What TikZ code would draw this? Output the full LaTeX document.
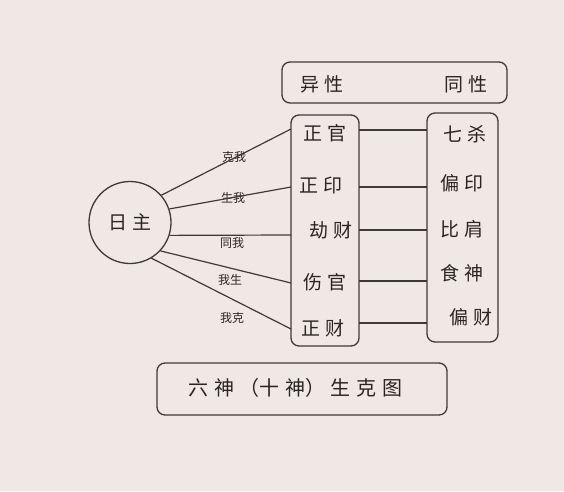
\documentclass[tikz,border=0pt]{standalone}
\usepackage{fontspec}
\newfontfamily\cjk{Noto Sans CJK SC}
\definecolor{bg}{RGB}{240,232,228}
\definecolor{ink}{RGB}{62,58,56}
\definecolor{txt}{RGB}{40,37,36}
\begin{document}
\begin{tikzpicture}[x=1pt,y=-1pt,
  box/.style={draw=ink,line width=1.3pt,rounded corners=8pt,inner sep=0pt},
  big/.style={font=\cjk\fontsize{19}{20}\selectfont,text=txt,inner sep=0pt},
  small/.style={font=\cjk\fontsize{12}{13}\selectfont,text=txt,inner sep=0pt},
  conn/.style={draw=ink,line width=1.2pt}]
\fill[bg] (0,0) rectangle (564,491);
\useasboundingbox (0,0) rectangle (564,491);
% boxes
\node[box,minimum width=225pt,minimum height=41pt] (T) at (394.5,82.5) {};
\node[box,minimum width=68pt,minimum height=231pt] (L) at (325,230.5) {};
\node[box,minimum width=71pt,minimum height=229pt] (R) at (462.5,227.5) {};
\node[box,minimum width=290pt,minimum height=52pt] (B) at (302,389) {};
\node[draw=ink,line width=1.3pt,circle,minimum size=82pt,inner sep=0pt] (sun) at (130,222.5) {};
% texts
\node[big] (t1) at (322,84) {异\hspace{5pt}性};
\node[big] (t2) at (466,84) {同\hspace{5pt}性};
\node[big] (sunt) at (130,222.5) {日\hspace{5pt}主};
\node[big] (a1) at (325,133) {正\hspace{5pt}官};
\node[big] (a2) at (321,185) {正\hspace{5pt}印};
\node[big] (a3) at (331,230) {劫\hspace{5pt}财};
\node[big] (a4) at (325,282) {伤\hspace{5pt}官};
\node[big] (a5) at (323,328) {正\hspace{5pt}财};
\node[big] (b1) at (465,134) {七\hspace{5pt}杀};
\node[big] (b2) at (462,183) {偏\hspace{5pt}印};
\node[big] (b3) at (462,229) {比\hspace{5pt}肩};
\node[big] (b4) at (462,273) {食\hspace{5pt}神};
\node[big] (b5) at (471,317) {偏\hspace{5pt}财};
\node[big,font=\cjk\fontsize{20}{21}\selectfont] (title) at (295,388) {六\hspace{6pt}神\hspace{5pt}（十\hspace{6pt}神）\hspace{5pt}生\hspace{6pt}克\hspace{6pt}图};
% labels
\node[small] (l1) at (234,157) {克我};
\node[small] (l2) at (233,198) {生我};
\node[small] (l3) at (232,243) {同我};
\node[small] (l4) at (230,280) {我生};
\node[small] (l5) at (232,318) {我克};
% connector ends
\coordinate (e1) at (291,129);
\coordinate (e2) at (291,187);
\coordinate (e3) at (291,235);
\coordinate (e4) at (291,283);
\coordinate (e5) at (291,329);
\draw[conn] (sun.41) -- (e1);
\draw[conn] (sun.19) -- (e2);
\draw[conn] (sun.-18) -- (e3);
\draw[conn] (sun.-43) -- (e4);
\draw[conn] (sun.-59) -- (e5);
% horizontal rows
\foreach \y [count=\i] in {130,187,230,281,323}{
  \coordinate (p\i) at (359,\y);
  \coordinate (q\i) at (427,\y);
  \draw[conn] (p\i) -- (q\i);
}
\end{tikzpicture}
\end{document}
